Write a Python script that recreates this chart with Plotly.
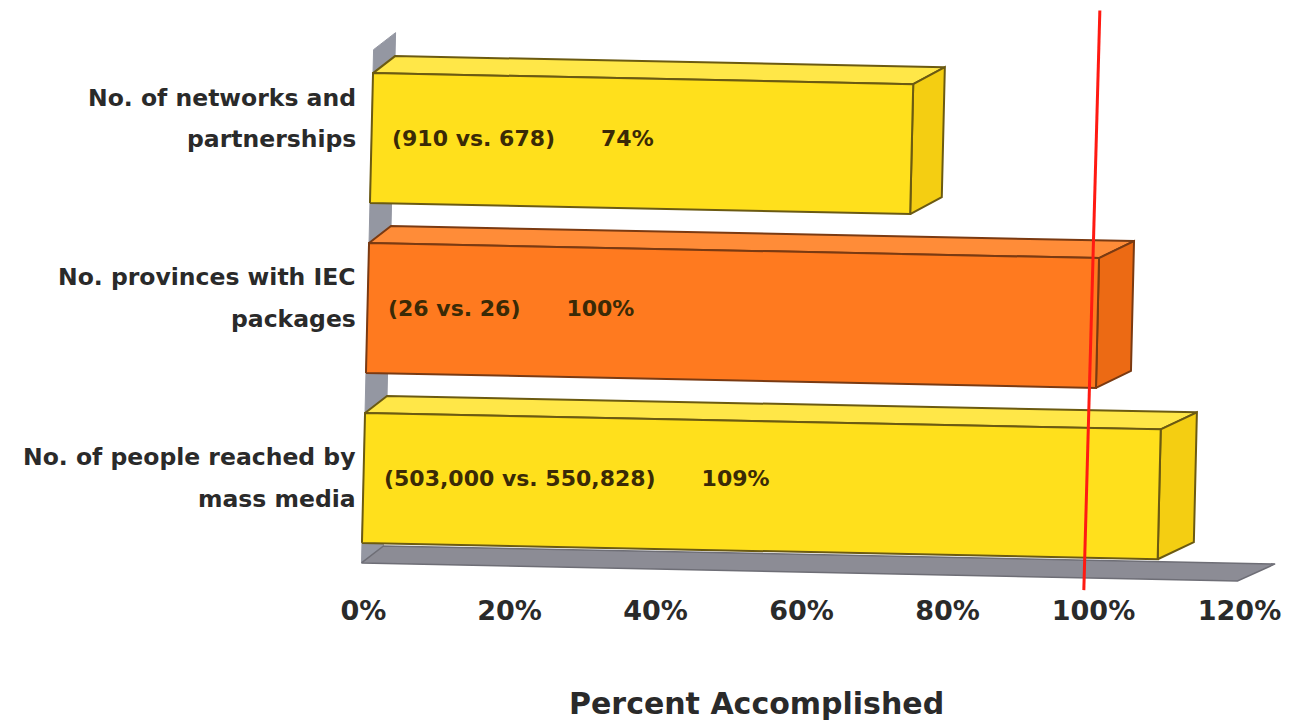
import plotly.graph_objects as go

# ---------------- data (bottom bar first) ----------------
label_lines = [
    ["No. of people reached by", "mass media"],
    ["No. provinces with IEC", "packages"],
    ["No. of networks and", "partnerships"],
]
targets = [503000, 26, 910]
achieved = [550828, 26, 678]
percent = [109, 100, 74]
target_pct = 100
tick_values = [0, 20, 40, 60, 80, 100, 120]
tick_labels = ["0%", "20%", "40%", "60%", "80%", "100%", "120%"]
axis_title = "Percent Accomplished"

# ---------------- styling / pseudo-3D projection ----------------
face_colors = [
    dict(front="#FFE01C", top="#FFE748", side="#F4CE12", edge="#6B5A12"),
    dict(front="#FF7A1F", top="#FF8C38", side="#EC6A14", edge="#7A3A12"),
    dict(front="#FFE01C", top="#FFE748", side="#F4CE12", edge="#6B5A12"),
]
PX_PER_PCT = 7.3
PX_PER_UNIT = 170.0
SHEAR_PX = 4.0      # x shift (px) per category unit
SKEW_PX = 0.15      # y drop (px) per percent
DEPTH_Y_PX = 17.0
HALF = 0.382
FONT = "DejaVu Sans"
TEXT = "#2a2a2a"


def proj(x, y, d):
    X = x + (SHEAR_PX * y + d * (22 + 0.13 * x)) / PX_PER_PCT
    Y = y - SKEW_PX * x / PX_PER_UNIT + d * DEPTH_Y_PX / PX_PER_UNIT
    return X, Y


def poly(points):
    xs, ys = [], []
    for p in points + [points[0]]:
        X, Y = proj(*p)
        xs.append(X)
        ys.append(Y)
    return xs, ys


fig = go.Figure()


def add_poly(points, fill, edge, width=2):
    xs, ys = poly(points)
    fig.add_trace(go.Scatter(
        x=xs, y=ys, mode="lines", fill="toself", fillcolor=fill,
        line=dict(color=edge, width=width), hoverinfo="skip", showlegend=False))


x_max = tick_values[-1]
floor_y = -0.5
# back wall (left side)
add_poly([(0, floor_y, 0), (0, floor_y, 1), (0, 2.52, 1), (0, 2.52, 0)], "#9497A2", "#9497A2", 1)
# floor
add_poly([(0, floor_y, 0), (x_max, floor_y, 0), (x_max, floor_y, 1), (0, floor_y, 1)], "#8C8C95", "#6E6E76", 1.5)

# bars, drawn from back (top) to front (bottom)
for i in reversed(range(len(percent))):
    v = percent[i]
    y = float(i)
    c = face_colors[i]
    add_poly([(0, y + HALF, 0), (v, y + HALF, 0), (v, y + HALF, 1), (0, y + HALF, 1)], c["top"], c["edge"])
    add_poly([(v, y - HALF, 0), (v, y - HALF, 1), (v, y + HALF, 1), (v, y + HALF, 0)], c["side"], c["edge"])
    add_poly([(0, y - HALF, 0), (v, y - HALF, 0), (v, y + HALF, 0), (0, y + HALF, 0)], c["front"], c["edge"])

# target line
y_top, y_bot = 2.75, -0.66
line_shear = 4.7 / PX_PER_PCT
line_x0 = target_pct - 0.9
fig.add_trace(go.Scatter(
    x=[line_x0 + line_shear * y_top, line_x0 + line_shear * y_bot],
    y=[y_top, y_bot], mode="lines", line=dict(color="#FF1A12", width=3),
    hoverinfo="skip", showlegend=False))

annotations = []
nb = "\u00a0" * 6
for i, (t, a, p) in enumerate(zip(targets, achieved, percent)):
    X, Y = proj(2.5, float(i), 0)
    annotations.append(dict(
        x=X, y=Y, xref="x", yref="y", xanchor="left", yanchor="middle",
        text=f"({t:,} vs. {a:,}){nb}{p}%", showarrow=False,
        font=dict(family=FONT, size=22, color="#3a2a06", weight="bold")))
    yc = 1.058 * i
    for k, line in enumerate(label_lines[i]):
        annotations.append(dict(
            x=-0.75, y=yc + (0.122 if k == 0 else -0.122), xref="x", yref="y",
            xanchor="right", yanchor="middle", text=line, showarrow=False,
            font=dict(family=FONT, size=23.5, color=TEXT, weight="bold")))

annotations.append(dict(
    x=0.453, y=-0.1875, xref="paper", yref="paper", xanchor="center", yanchor="middle",
    text=axis_title, showarrow=False,
    font=dict(family=FONT, size=30, color=TEXT, weight="bold")))

fig.update_layout(
    width=1304, height=728,
    margin=dict(l=327, r=28, t=0, b=136),
    paper_bgcolor="white", plot_bgcolor="white",
    xaxis=dict(range=[-5, 125], tickvals=tick_values, ticktext=tick_labels,
               showgrid=False, zeroline=False, showline=False, ticks="",
               tickfont=dict(family=FONT, size=27, color=TEXT, weight="bold"),
               fixedrange=True),
    yaxis=dict(range=[-0.671, 2.812], showticklabels=False, showgrid=False,
               zeroline=False, showline=False, fixedrange=True),
    annotations=annotations,
    showlegend=False,
)

fig.write_html("out.html")
